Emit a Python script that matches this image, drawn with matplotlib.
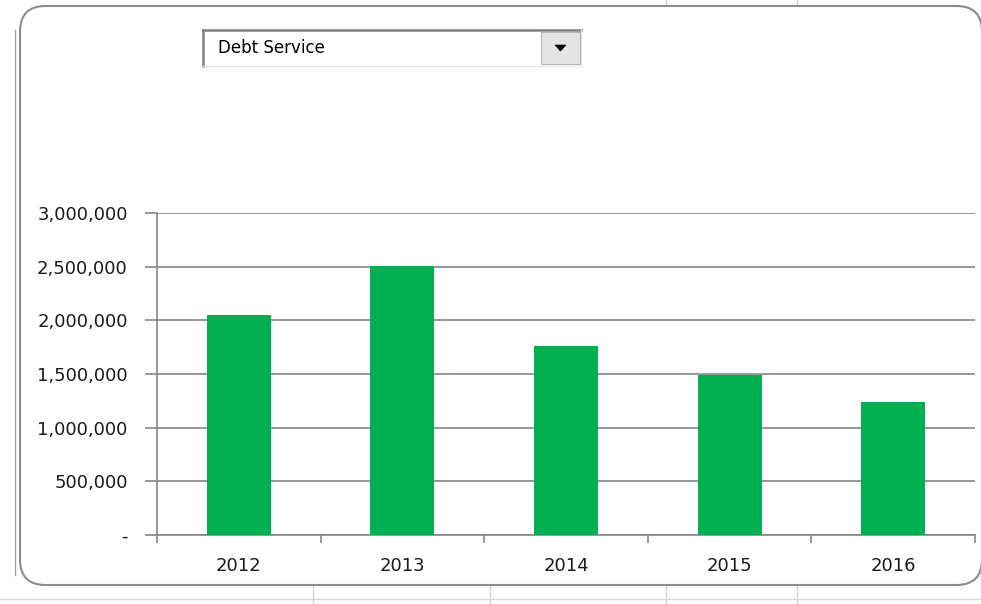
import matplotlib.pyplot as plt
import matplotlib.patches as mpatches
from matplotlib.lines import Line2D
from matplotlib.ticker import FuncFormatter, FixedLocator

years = ['2012', '2013', '2014', '2015', '2016']
debt_service = [2050000, 2510000, 1760000, 1490000, 1240000]
y_ticks = [0, 500000, 1000000, 1500000, 2000000, 2500000, 3000000]
selected_item = 'Debt Service'

W, H = 981, 604
fig = plt.figure(figsize=(W / 100, H / 100), dpi=100)
fig.patch.set_facecolor('white')


def px(x, y):
    # pixel coords (top-left origin) -> figure fraction
    return x / W, 1 - y / H


def fig_line(x0, y0, x1, y1, color='#d4d4d4', lw=1.0, z=0):
    a, b = px(x0, y0)
    c, d = px(x1, y1)
    fig.add_artist(Line2D([a, c], [b, d], transform=fig.transFigure,
                          color=color, lw=lw, zorder=z))


# spreadsheet cell lines behind the chart object
fig_line(0, 599, W, 599)
for gx in [313, 490, 666, 797]:
    fig_line(gx, 585, gx, H)
for gx in [666, 797]:
    fig_line(gx, 0, gx, 6)
fig_line(15, 30, 15, 575, color='#a0a0a0')

# rounded chart frame
fx0, fy0 = px(20, 585)
fx1, fy1 = px(982, 6)
frame = mpatches.FancyBboxPatch((fx0, fy0), fx1 - fx0, fy1 - fy0,
                                boxstyle='round,pad=0,rounding_size=0.026',
                                transform=fig.transFigure, facecolor='white',
                                edgecolor='#8c8c8c', lw=1.5, zorder=1,
                                mutation_aspect=W / H)
fig.add_artist(frame)

# dropdown control
bx0, by0 = px(203, 66)
bx1, by1 = px(581, 30)
fig.add_artist(mpatches.Rectangle((bx0, by0), bx1 - bx0, by1 - by0,
                                  transform=fig.transFigure, facecolor='white',
                                  edgecolor='none', zorder=2))
fig_line(203, 30, 581, 30, color='#808080', lw=1.8, z=3)
fig_line(203, 30, 203, 66, color='#808080', lw=1.8, z=3)
fig_line(203, 66, 581, 66, color='#e6e6e6', lw=1, z=3)
fig_line(581, 30, 581, 66, color='#e6e6e6', lw=1, z=3)
ax0, ay0 = px(541, 64)
ax1, ay1 = px(580, 32)
fig.add_artist(mpatches.Rectangle((ax0, ay0), ax1 - ax0, ay1 - ay0,
                                  transform=fig.transFigure, facecolor='#e4e4e4',
                                  edgecolor='#b4b4b4', lw=0.8, zorder=3))
t1, t2, t3 = px(555, 45), px(566, 45), px(560.5, 51)
fig.add_artist(mpatches.Polygon([t1, t2, t3], closed=True, transform=fig.transFigure,
                                facecolor='black', edgecolor='black', lw=0.5, zorder=4))
tx, ty = px(218, 48)
fig.text(tx, ty, selected_item, fontsize=12, va='center', ha='left',
         color='black', family='DejaVu Sans', zorder=5)

# bar chart
l, b = px(157, 535)
r, t = px(975, 213)
ax = fig.add_axes([l, b, r - l, t - b], zorder=6)
ax.set_facecolor('none')
xs = list(range(len(years)))
ax.bar(xs, debt_service, width=0.39, color='#00b050', zorder=3)

ax.set_xlim(-0.5, len(years) - 0.5)
ax.set_ylim(0, 3000000)
ax.set_yticks(y_ticks)
ax.yaxis.set_major_formatter(FuncFormatter(lambda v, p: '-' if v == 0 else f'{int(v):,}'))
ax.set_xticks(xs)
ax.set_xticklabels(years)
ax.xaxis.set_minor_locator(FixedLocator([x - 0.5 for x in range(len(years) + 1)]))

ax.grid(axis='y', color='#868686', lw=1.2, zorder=0)
for s in ['top', 'right']:
    ax.spines[s].set_visible(False)
for s in ['left', 'bottom']:
    ax.spines[s].set_color('#868686')
    ax.spines[s].set_linewidth(1.2)

for lab in ax.get_yticklabels() + ax.get_xticklabels():
    lab.set_family('DejaVu Sans')
ax.tick_params(axis='y', length=9, width=1.2, color='#868686', labelsize=13,
               labelcolor='#1a1a1a', pad=12)
ax.tick_params(axis='x', which='major', length=0, labelsize=13,
               labelcolor='#1a1a1a', pad=16)
ax.tick_params(axis='x', which='minor', length=6, width=1.2, color='#868686')

fig.savefig('out.png', dpi=100, facecolor='white')
